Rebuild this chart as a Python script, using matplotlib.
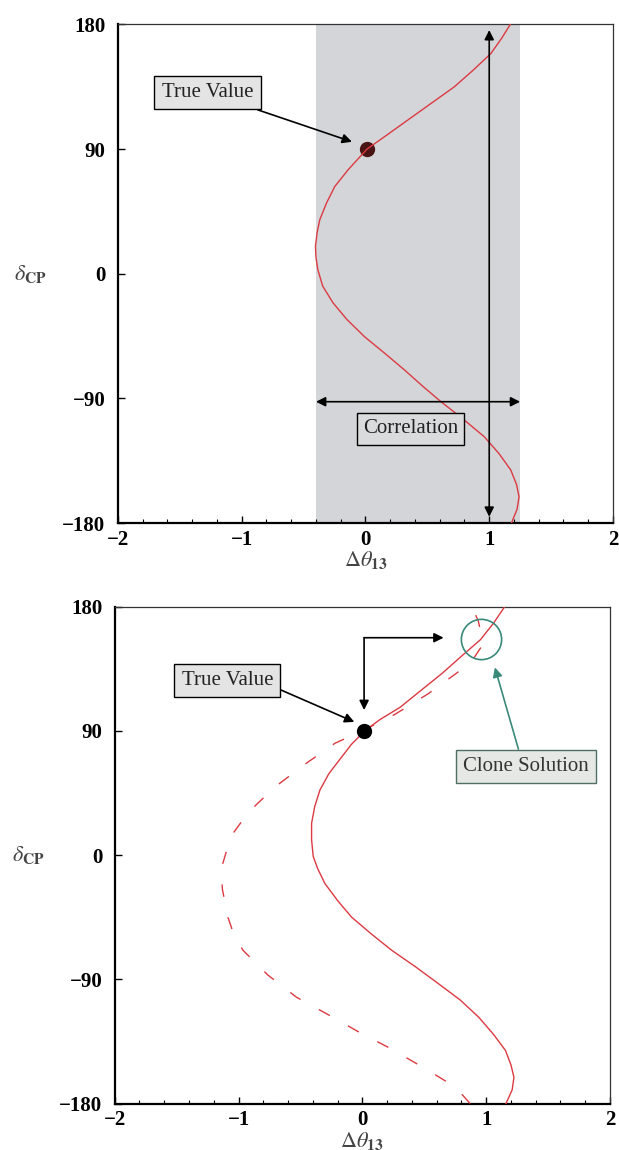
import matplotlib
matplotlib.use('Agg')
import matplotlib.pyplot as plt
from matplotlib.ticker import MultipleLocator

plt.rcParams['font.family'] = ['Liberation Serif', 'DejaVu Serif']
plt.rcParams['mathtext.fontset'] = 'stix'

# ---------------- data ----------------
x_ticks = [-2, -1, 0, 1, 2]
x_ticklabels = ['\u22122', '\u22121', '0', '1', '2']
y_ticks = [-180, -90, 0, 90, 180]
y_ticklabels = ['\u2212180', '\u221290', '0', '90', '180']

# top panel: solid correlation curve (delta_CP, delta theta13)
top_delta = [-180, -170, -161, -152, -141.7, -130, -117.7, -105, -92.4, -81, -69.5, -57,
             -45.5, -33, -21, -9, 3, 12, 20, 30, 39, 51, 63, 75, 90, 100, 111, 123,
             135, 147, 159, 170, 180]
top_dtheta = [1.18, 1.225, 1.241, 1.22, 1.174, 1.08, 0.96, 0.79, 0.61, 0.46, 0.316, 0.15,
              -0.007, -0.15, -0.262, -0.345, -0.385, -0.40, -0.404, -0.39, -0.369, -0.315,
              -0.248, -0.141, 0.012, 0.17, 0.342, 0.53, 0.718, 0.87, 1.013, 1.10, 1.17]

# top panel: correlation band and markers
band_range = [-0.40, 1.25]
true_value = [0.015, 90]
corr_arrow_delta = -92.4
vert_arrow_x = 1.0
vert_arrow_range = [-175.5, 176]

# bottom panel: solid curve
bot_delta = [-180, -170, -161, -152, -141.6, -130, -117.5, -105, -93.3, -81, -69, -57,
             -45, -33, -20.7, -10, -1, 11, 23, 35, 47, 59, 71, 80, 90, 98, 107, 119,
             131.5, 144, 156, 168, 180]
bot_dtheta = [1.16, 1.21, 1.224, 1.2, 1.156, 1.06, 0.94, 0.79, 0.616, 0.43, 0.237, 0.07,
              -0.087, -0.2, -0.302, -0.36, -0.397, -0.41, -0.41, -0.385, -0.343, -0.27,
              -0.167, -0.09, 0.02, 0.14, 0.305, 0.47, 0.643, 0.80, 0.954, 1.06, 1.15]

# bottom panel: dashed (clone) curve
dash_delta = [-180, -168, -154, -140, -128, -115, -103, -87, -69, -57, -45, -25, -10,
              5, 15, 31, 49, 66, 81, 90, 102, 117, 133, 140, 150, 158, 170, 180]
dash_dtheta = [0.87, 0.751, 0.494, 0.224, -0.032, -0.289, -0.532, -0.762, -0.964, -1.04,
               -1.086, -1.13, -1.14, -1.09, -1.05, -0.92, -0.71, -0.46, -0.22, 0.0,
               0.265, 0.535, 0.78, 0.88, 0.955, 0.965, 0.935, 0.88]

clone_point = [0.961, 156.4]
elbow_corner = [0.014, 157.4]
elbow_down_tip = 105
elbow_right_tip = 0.656

RED = '#dc3a42'
TEAL = '#3a8a7a'

fig = plt.figure(figsize=(6.19, 11.5), dpi=100)
ax1 = fig.add_axes([0.1905, 0.5452, 0.7998, 0.4335])
ax2 = fig.add_axes([0.1853, 0.0404, 0.8002, 0.4322])


def style(ax, ylab_x):
    ax.set_xlim(-2, 2)
    ax.set_ylim(-180, 180)
    ax.set_xticks(x_ticks)
    ax.set_xticklabels(x_ticklabels)
    ax.set_yticks(y_ticks)
    ax.set_yticklabels(y_ticklabels)
    ax.xaxis.set_minor_locator(MultipleLocator(0.2))
    ax.tick_params(axis='both', which='both', direction='in', top=False, right=False)
    ax.tick_params(which='major', length=5, width=1)
    ax.tick_params(which='minor', length=3, width=0.8)
    ax.tick_params(axis='x', pad=5)
    ax.tick_params(axis='y', pad=9)
    for lab in ax.get_xticklabels() + ax.get_yticklabels():
        lab.set_fontweight('bold')
        lab.set_fontsize(15)
    for s in ['top', 'right']:
        ax.spines[s].set_linewidth(0.9)
        ax.spines[s].set_color('#333333')
    for s in ['left', 'bottom']:
        ax.spines[s].set_linewidth(1.6)
        ax.spines[s].set_color('black')
    ax.text(0.5, -0.075, r'$\Delta\theta_{\mathbf{13}}$', transform=ax.transAxes,
            ha='center', va='center', fontsize=16, color='#444444')
    ax.text(ylab_x, 0.5, r'$\delta_{\mathbf{CP}}$', transform=ax.transAxes,
            ha='center', va='center', fontsize=16, color='#444444')


style(ax1, -0.176)
style(ax2, -0.174)

arrow_k = dict(arrowstyle='-|>', color='black', lw=1.2, mutation_scale=14,
               shrinkA=0, shrinkB=0)
darrow_k = dict(arrowstyle='<|-|>', color='black', lw=1.2, mutation_scale=14,
                shrinkA=0, shrinkB=0)

# ---------------- top panel ----------------
ax1.axvspan(band_range[0], band_range[1], color='#d3d5d8', zorder=0, lw=0)
ax1.plot(true_value[0], true_value[1], 'o', color='#4a1414', ms=10, zorder=3)
ax1.plot(top_dtheta, top_delta, color=RED, lw=1.0, zorder=4)

ax1.annotate('', xy=(band_range[1], corr_arrow_delta), xytext=(band_range[0], corr_arrow_delta),
             arrowprops=darrow_k, zorder=5)
ax1.annotate('', xy=(vert_arrow_x, vert_arrow_range[1]), xytext=(vert_arrow_x, vert_arrow_range[0]),
             arrowprops=darrow_k, zorder=5)

ax1.text(0.364, -112, 'Correlation', ha='center', va='center', fontsize=15, color='#222222',
         bbox=dict(boxstyle='square,pad=0.3', fc='#d9dbdd', ec='black', lw=1.0), zorder=6)

ax1.annotate('True Value', xy=(-0.109, 95.3), xytext=(-1.276, 130.8),
             ha='center', va='center', fontsize=15, color='#222222',
             bbox=dict(boxstyle='square,pad=0.35', fc='#e4e4e4', ec='black', lw=1.0),
             arrowprops=dict(arrowstyle='-|>', color='black', lw=1.2, mutation_scale=14,
                             shrinkA=0, shrinkB=0, relpos=(0.8, 0.0)), zorder=6)

# ---------------- bottom panel ----------------
ax2.plot(bot_dtheta, bot_delta, color=RED, lw=1.0, zorder=3)
ax2.plot(dash_dtheta, dash_delta, color=RED, lw=1.0, dashes=(9, 15), zorder=3)
ax2.plot(true_value[0], true_value[1], 'o', color='black', ms=10, zorder=4)
ax2.plot(clone_point[0], clone_point[1], 'o', ms=29, mfc='none', mec=TEAL, mew=1.2, zorder=4)

ax2.annotate('', xy=(elbow_corner[0], elbow_down_tip), xytext=(elbow_corner[0], elbow_corner[1]),
             arrowprops=arrow_k, zorder=5)
ax2.annotate('', xy=(elbow_right_tip, elbow_corner[1]), xytext=(elbow_corner[0], elbow_corner[1]),
             arrowprops=arrow_k, zorder=5)

ax2.annotate('True Value', xy=(-0.065, 96.4), xytext=(-1.09, 126.3),
             ha='center', va='center', fontsize=15, color='#222222',
             bbox=dict(boxstyle='square,pad=0.35', fc='#e4e4e4', ec='black', lw=1.0),
             arrowprops=dict(arrowstyle='-|>', color='black', lw=1.2, mutation_scale=14,
                             shrinkA=0, shrinkB=0, relpos=(0.97, 0.25)), zorder=6)

ax2.annotate('Clone Solution', xy=(1.07, 135.9), xytext=(1.319, 64.2),
             ha='center', va='center', fontsize=15, color='#333333',
             bbox=dict(boxstyle='square,pad=0.35', fc='#e6e8e6', ec='#4f6f66', lw=1.0),
             arrowprops=dict(arrowstyle='-|>', color=TEAL, lw=1.2, mutation_scale=14,
                             shrinkA=0, shrinkB=0, relpos=(0.46, 1.0)), zorder=6)

fig.savefig('out.png', dpi=100)
